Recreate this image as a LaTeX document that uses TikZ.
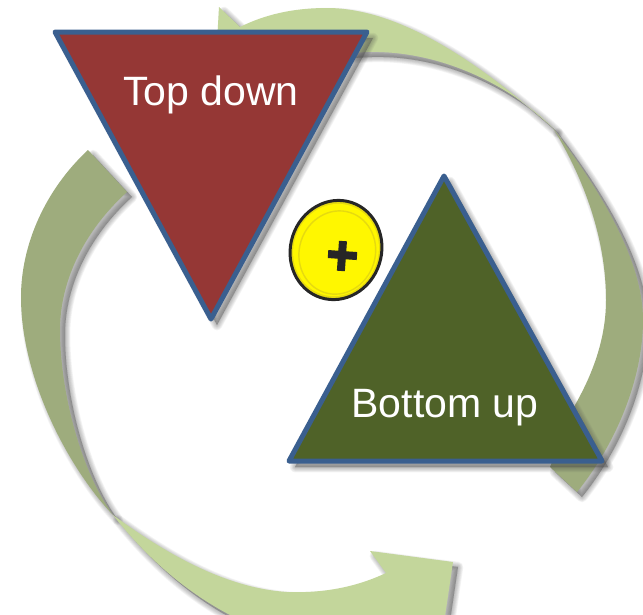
\documentclass[tikz,border=0pt]{standalone}
\usepackage{fontspec}
\setmainfont{Liberation Sans}
\definecolor{lightarc}{HTML}{C3D69B}
\definecolor{darkarc}{HTML}{9EAC7D}
\definecolor{topfill}{HTML}{953735}
\definecolor{botfill}{HTML}{4F6228}
\definecolor{edgeblue}{HTML}{3A5F8F}
\definecolor{btn}{HTML}{FFF700}
\definecolor{btnrim}{HTML}{E6DA10}
\tikzset{
  shadowlayer/.style={fill=black!70,draw=black!70,fill opacity=.06,draw opacity=.06,line join=round},
  tri/.style={draw=edgeblue,line width=5pt,line join=round},
  trilabel/.style={text=white,font=\fontsize{41}{43}\selectfont,inner sep=0pt},
}
\newcommand{\softshadow}[2]{%
  \foreach \w in {0.1,1.5,3,4.5,6,7.5,9,10.5}{
    \path[shadowlayer,line width=\w pt,shift={(#1pt,-#1pt)}] #2;
  }%
}
\def\leftarc{(88,150) .. controls (45,190) and (21,245) .. (21,297) .. controls (21,380) and (70,470) .. (113,515) .. controls (80,470) and (60,390) .. (60,330) .. controls (60,280) and (85,230) .. (127,192) -- cycle}
\def\bottomarcfull{(113,515) .. controls (150,562) and (190,594) .. (230,615) -- (440,650) -- (453,562) -- (370,551) -- (386,573) .. controls (350,590) and (315,593) .. (287,592) .. controls (225,588) and (165,553) .. (113,515) -- cycle}
\def\toparc{(219,7) -- (240,27) .. controls (270,12) and (300,8) .. (327,8) .. controls (405,8) and (490,72) .. (553,128) .. controls (510,85) and (440,50) .. (367,52) -- (216,60) -- cycle}
\def\rightarc{(553,128) .. controls (600,190) and (643,260) .. (643,320) .. controls (643,380) and (615,445) .. (577,492) -- (550,467) -- (575,405) .. controls (595,370) and (606,335) .. (606,300) .. controls (606,240) and (585,180) .. (553,128) -- cycle}
\begin{document}
\begin{tikzpicture}[x=1pt,y=-1pt]
\useasboundingbox (0,0) rectangle (643,614);
\clip (0,0) rectangle (643,614);
\fill[white] (0,0) rectangle (643,614);
% circular arrows
\softshadow{5}{\leftarc}
\softshadow{5}{\bottomarcfull}
\softshadow{5}{\toparc}
\softshadow{5}{\rightarc}
\fill[darkarc] \leftarc;
\fill[darkarc] \rightarc;
\fill[lightarc] \bottomarcfull;
\fill[lightarc] \toparc;
% triangles
\softshadow{6}{(55,32) -- (367,32) -- (211,319) -- cycle}
\softshadow{6}{(444,176) -- (602,461) -- (289,461) -- cycle}
\draw[tri,fill=topfill] (55,32) -- (367,32) -- (211,319) -- cycle;
\draw[tri,fill=botfill] (444,176) -- (602,461) -- (289,461) -- cycle;
\node[trilabel] (topdown) at (211,94.5) {Top down};
\node[trilabel] (bottomup) at (445,408) {Bottom up};
% button
\draw[black!85,line width=3pt,fill=btnrim,rotate around={-18:(336,250)}] (336,250) ellipse [x radius=45.5,y radius=50];
\fill[btn,rotate around={-18:(336,250)}] (336,250) ellipse [x radius=42.5,y radius=46.5];
\draw[btnrim,line width=1.4pt,rotate around={-18:(336,250)}] (338,252) ellipse [x radius=38,y radius=42];
\draw[black!85,line width=8pt,rotate around={-4:(342,255)}] (328,255) -- (357,255) (342,241) -- (342,271);
\end{tikzpicture}
\end{document}
